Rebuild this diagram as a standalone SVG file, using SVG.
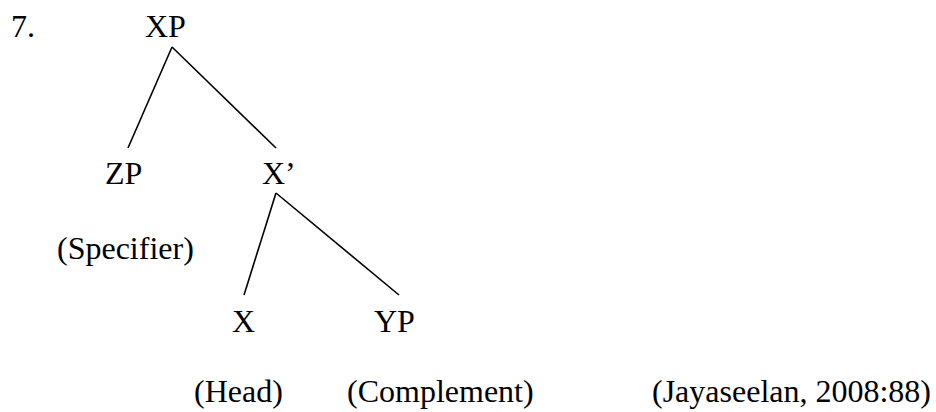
<svg xmlns="http://www.w3.org/2000/svg" width="936" height="412" viewBox="0 0 936 412">
  <style>
    text { font-family: "Liberation Serif", "Times New Roman", serif; font-size: 32px; fill: #000; }
    .edge { stroke: #000; stroke-width: 1.6; fill: none; stroke-linecap: butt; }
  </style>
  <rect width="936" height="412" fill="#fff"/>
  <text x="11" y="37">7.</text>
  <g id="connectors">
    <line class="edge" x1="172" y1="47" x2="128" y2="148"/>
    <line class="edge" x1="172" y1="47" x2="276" y2="148"/>
    <line class="edge" x1="276" y1="193" x2="244" y2="295"/>
    <line class="edge" x1="276" y1="193" x2="399" y2="295"/>
  </g>
  <g id="node-XP"><text x="145" y="37">XP</text></g>
  <g id="node-ZP"><text x="105" y="184">ZP</text></g>
  <g id="node-Xbar"><text x="262" y="184">X’</text></g>
  <g id="node-X"><text x="232" y="332">X</text></g>
  <g id="node-YP"><text x="374" y="332">YP</text></g>
  <g id="label-specifier"><text x="57" y="259">(Specifier)</text></g>
  <g id="label-head"><text x="194" y="402">(Head)</text></g>
  <g id="label-complement"><text x="347" y="402">(Complement)</text></g>
  <g id="citation"><text x="652" y="402">(Jayaseelan, 2008:88)</text></g>
</svg>
